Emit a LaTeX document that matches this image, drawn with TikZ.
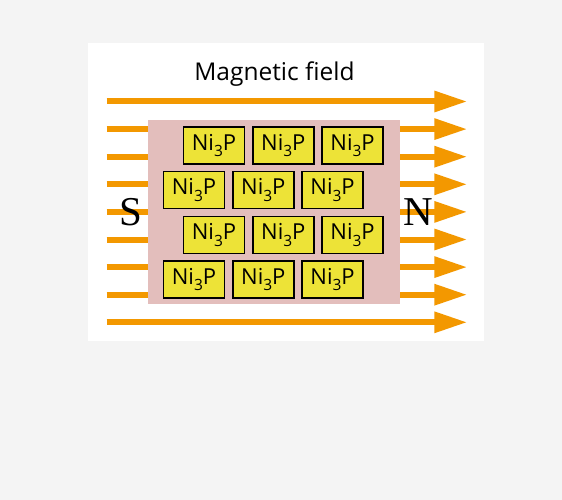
\documentclass[tikz,border=0pt]{standalone}
\usepackage{fontspec}
\setmainfont{Open Sans}
\newfontfamily\serifpole{Liberation Serif}
\usetikzlibrary{arrows.meta}
\definecolor{bgcol}{HTML}{F4F4F4}
\definecolor{fieldcol}{HTML}{F39800}
\definecolor{pinkcol}{HTML}{E3BEBC}
\definecolor{yellowcol}{HTML}{EDE337}
\newcommand{\nithreep}{Ni\raisebox{-6.5pt}{\fontsize{15.5}{15.5}\selectfont 3}P}
\tikzset{
  fieldarrow/.style={draw=fieldcol, line width=6pt,
    -{Triangle[length=33pt 0 0, width=20pt 0 0, fill=fieldcol]}},
  crystal/.style={draw=black, line width=1.5pt, fill=yellowcol,
    minimum width=61pt, minimum height=37pt, inner sep=0pt,
    font=\fontsize{22}{22}\selectfont},
  pole/.style={font=\serifpole\fontsize{41}{41}\selectfont, inner sep=0pt}
}
\begin{document}
\begin{tikzpicture}[x=1pt,y=-1pt]
\fill[bgcol] (0,0) rectangle (562,500);
\useasboundingbox (0,0) rectangle (562,500);
\fill[white] (87.5,43.5) rectangle (484,341);
\node[anchor=base, inner sep=0pt, font=\fontsize{24.5}{24.5}\selectfont] (title) at (274.5,80.3) {Magnetic field};
% field lines
\foreach \i in {0,...,8} {
  \coordinate (s\i) at (106.7,101.5+27.6*\i);
  \coordinate (e\i) at (467.3,101.5+27.6*\i);
  \draw[fieldarrow] (s\i) -- (e\i);
}
\fill[pinkcol] (148.3,120) rectangle (399.5,303.5);
% crystals
\foreach \r/\y/\x in {1/145.5/214, 2/190/194, 3/235/214, 4/279.5/194} {
  \foreach \c in {0,1,2} {
    \node[crystal] (b\r\c) at ({\x+69.3*\c},\y) {\nithreep};
  }
}
\node[pole] (S) at (131,212) {S};
\node[pole] (N) at (418.5,212) {N};
\end{tikzpicture}
\end{document}
